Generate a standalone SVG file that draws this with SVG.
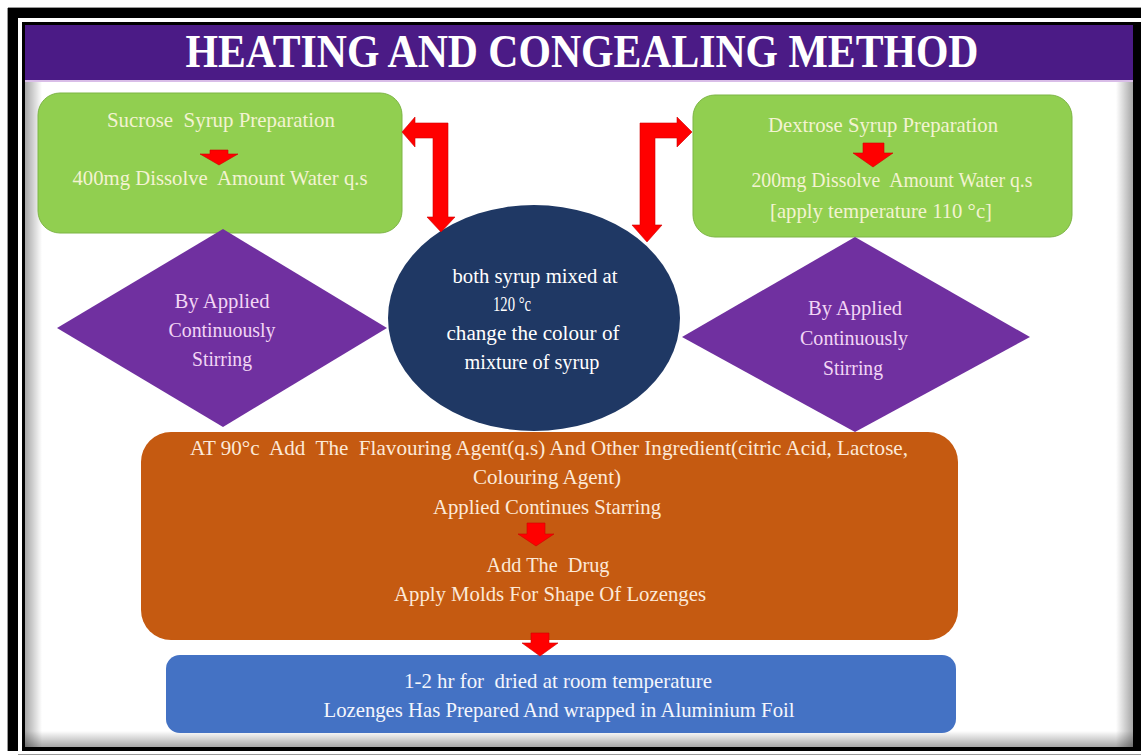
<svg xmlns="http://www.w3.org/2000/svg" width="1141" height="756" viewBox="0 0 1141 756">
<style>
text{font-family:"Liberation Serif","Times New Roman",serif;text-anchor:middle;white-space:pre}
.g{fill:#F3F3D2;font-size:21px}
.d{fill:#F2D6F5;font-size:21px}
.c{fill:#FFFFFF;font-size:20px}
.o{fill:#FCE9D8;font-size:21px}
.b{fill:#F4F6FC;font-size:21px}
.arr{fill:#FF0000;stroke:#D00000;stroke-width:0.6}
</style>
<defs>
<linearGradient id="shL" x1="0" y1="0" x2="1" y2="0"><stop offset="0" stop-color="#000" stop-opacity="0.35"/><stop offset="1" stop-color="#000" stop-opacity="0"/></linearGradient>
<linearGradient id="shR" x1="1" y1="0" x2="0" y2="0"><stop offset="0" stop-color="#000" stop-opacity="0.35"/><stop offset="1" stop-color="#000" stop-opacity="0"/></linearGradient>
<linearGradient id="shB" x1="0" y1="1" x2="0" y2="0"><stop offset="0" stop-color="#000" stop-opacity="0.35"/><stop offset="1" stop-color="#000" stop-opacity="0"/></linearGradient>
</defs>
<rect width="1141" height="756" fill="#fff"/>
<g id="frame">
<rect x="8" y="8" width="1133" height="743" fill="#000"/>
<rect x="18" y="18" width="1123" height="735" fill="#fff"/>
<rect x="22" y="22" width="1119" height="729" fill="#000"/>
<rect x="25" y="25" width="1108" height="722" fill="#fff"/>
<rect x="25" y="80" width="17" height="667" fill="url(#shL)"/>
<rect x="1116" y="80" width="17" height="667" fill="url(#shR)"/>
<rect x="25" y="731" width="1108" height="16" fill="url(#shB)"/>
<line x1="7.5" y1="8" x2="7.5" y2="751" stroke="#999" stroke-width="1"/>
<line x1="8" y1="7.5" x2="1141" y2="7.5" stroke="#999" stroke-width="1"/>
<line x1="18" y1="754.5" x2="1141" y2="754.5" stroke="#999" stroke-width="1"/>
</g>
<g id="title">
<rect x="25" y="25" width="1108" height="55" fill="#4B1B86"/>
<rect x="25" y="80" width="1108" height="2" fill="#D9BDE8"/>
<text x="582" y="67" font-size="46" font-weight="bold" fill="#FFFFFF" textLength="793" lengthAdjust="spacingAndGlyphs">HEATING AND CONGEALING METHOD</text>
</g>
<g id="sucrose">
<rect x="38" y="93" width="364" height="140" rx="22" fill="#91CF50" stroke="#7DB545" stroke-width="1"/>
<text class="g" x="221" y="127" textLength="228" lengthAdjust="spacingAndGlyphs">Sucrose  Syrup Preparation</text>
<polygon class="arr" points="210,150 228,150 228,154 238,154 219,165 200,154 210,154"/>
<text class="g" x="220" y="185" textLength="295" lengthAdjust="spacingAndGlyphs">400mg Dissolve  Amount Water q.s</text>
</g>
<g id="dextrose">
<rect x="693" y="95" width="379" height="142" rx="22" fill="#91CF50" stroke="#7DB545" stroke-width="1"/>
<text class="g" x="883" y="132" textLength="230" lengthAdjust="spacingAndGlyphs">Dextrose Syrup Preparation</text>
<polygon class="arr" points="863,143 884,143 884,153 893,153 873,167 853,153 863,153"/>
<text class="g" x="892" y="187" textLength="281" lengthAdjust="spacingAndGlyphs">200mg Dissolve  Amount Water q.s</text>
<text class="g" x="881" y="218" textLength="222" lengthAdjust="spacingAndGlyphs">[apply temperature 110 °c]</text>
</g>
<g id="stir-left">
<polygon points="223,229 387,328 223,427 57,328" fill="#7030A0"/>
<text class="d" x="222" y="308" textLength="95" lengthAdjust="spacingAndGlyphs">By Applied</text>
<text class="d" x="222" y="337" textLength="107" lengthAdjust="spacingAndGlyphs">Continuously</text>
<text class="d" x="222" y="366" textLength="60" lengthAdjust="spacingAndGlyphs">Stirring</text>
</g>
<g id="stir-right">
<polygon points="855,237 1030,337 855,432 682,337" fill="#7030A0"/>
<text class="d" x="855" y="315" textLength="94" lengthAdjust="spacingAndGlyphs">By Applied</text>
<text class="d" x="854" y="345" textLength="108" lengthAdjust="spacingAndGlyphs">Continuously</text>
<text class="d" x="853" y="375" textLength="60" lengthAdjust="spacingAndGlyphs">Stirring</text>
</g>
<g id="mix">
<ellipse cx="534" cy="318" rx="146" ry="113" fill="#1F3864"/>
<text class="c" x="535" y="283" textLength="165" lengthAdjust="spacingAndGlyphs">both syrup mixed at</text>
<text class="c" x="512" y="311" textLength="38" lengthAdjust="spacingAndGlyphs">120 °c</text>
<text class="c" x="533" y="340" textLength="173" lengthAdjust="spacingAndGlyphs">change the colour of</text>
<text class="c" x="532" y="369" textLength="135" lengthAdjust="spacingAndGlyphs">mixture of syrup</text>
</g>
<g id="flavour">
<rect x="141" y="432" width="817" height="208" rx="30" fill="#C55A11"/>
<text class="o" x="549" y="455" textLength="718" lengthAdjust="spacingAndGlyphs">AT 90°c  Add  The  Flavouring Agent(q.s) And Other Ingredient(citric Acid, Lactose,</text>
<text class="o" x="547" y="484" textLength="148" lengthAdjust="spacingAndGlyphs">Colouring Agent)</text>
<text class="o" x="547" y="514" textLength="228" lengthAdjust="spacingAndGlyphs">Applied Continues Starring</text>
<polygon class="arr" points="527,523 545,523 545,534 554,534 536,546 518,534 527,534"/>
<text class="o" x="548" y="572" textLength="123" lengthAdjust="spacingAndGlyphs">Add The  Drug</text>
<text class="o" x="550" y="601" textLength="312" lengthAdjust="spacingAndGlyphs">Apply Molds For Shape Of Lozenges</text>
</g>
<g id="dried">
<rect x="166" y="655" width="790" height="78" rx="14" fill="#4472C4"/>
<text class="b" x="558" y="688" textLength="308" lengthAdjust="spacingAndGlyphs">1-2 hr for  dried at room temperature</text>
<text class="b" x="559" y="717" textLength="471" lengthAdjust="spacingAndGlyphs">Lozenges Has Prepared And wrapped in Aluminium Foil</text>
</g>
<g id="connectors">
<polygon class="arr" points="402,132 415,117 415,123 448,123 448,217 455,217 441,232 427,217 433,217 433,138 415,138 415,147"/>
<polygon class="arr" points="692,132 677,117 677,123 640,123 640,225 632,225 647,242 662,225 655,225 655,138 677,138 677,147"/>
<polygon class="arr" points="531,633 549,633 549,643 558,643 540,656 522,643 531,643"/>
</g>
</svg>
